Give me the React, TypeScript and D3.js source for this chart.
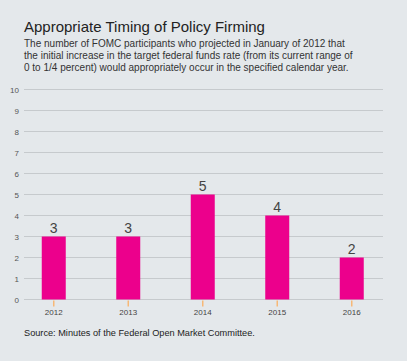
import { useEffect, useRef } from "react"
import * as d3 from "d3"

const years = ["2012", "2013", "2014", "2015", "2016"]
const participants = [3, 3, 5, 4, 2]
const yTicks = [0, 1, 2, 3, 4, 5, 6, 7, 8, 9, 10]

const title = "Appropriate Timing of Policy Firming"
const subtitle = [
  "The number of FOMC participants who projected in January of 2012 that",
  "the initial increase in the target federal funds rate (from its current range of",
  "0 to 1/4 percent) would appropriately occur in the specified calendar year.",
]
const source = "Source: Minutes of the Federal Open Market Committee."

export default function App() {
  const svgRef = useRef<SVGSVGElement>(null)

  useEffect(() => {
    document.body.style.margin = "0"
    document.body.style.background = "#e4e8eb"
    if (!svgRef.current) return

    const svg = d3.select(svgRef.current)
    svg.selectAll("*").remove()

    const width = 407
    const height = 361
    const font = "Liberation Sans, Arial, sans-serif"

    svg.append("rect").attr("width", width).attr("height", height).attr("fill", "#e4e8eb")

    // Title and subtitle
    svg
      .append("text")
      .attr("x", 24)
      .attr("y", 31.5)
      .text(title)
      .style("font-family", font)
      .style("font-size", "15px")
      .attr("fill", "#222")

    subtitle.forEach((line, i) => {
      svg
        .append("text")
        .attr("x", 24)
        .attr("y", 47 + i * 12)
        .text(line)
        .style("font-family", font)
        .style("font-size", "10px")
        .attr("fill", "#333")
    })

    // Scales
    const x = d3.scalePoint<string>().domain(years).range([16.5, 389]).padding(0.5)
    const y = d3.scaleLinear().domain([0, 10]).range([299.5, 89.5])
    const barWidth = 24

    // Grid lines + y labels
    const grid = svg.append("g")
    yTicks.forEach((t) => {
      grid
        .append("line")
        .attr("x1", 24)
        .attr("x2", 383)
        .attr("y1", y(t))
        .attr("y2", y(t))
        .attr("stroke", "#c6cacd")
        .attr("stroke-width", 1)
      grid
        .append("text")
        .attr("x", 19)
        .attr("y", y(t) + 3)
        .attr("text-anchor", "end")
        .text(t)
        .style("font-family", font)
        .style("font-size", "8px")
        .attr("fill", "#555")
    })

    // Bars
    const bars = svg.append("g")
    years.forEach((yr, i) => {
      const cx = x(yr) || 0
      const v = participants[i]
      bars
        .append("rect")
        .attr("x", cx - barWidth / 2)
        .attr("y", y(v))
        .attr("width", barWidth)
        .attr("height", y(0) - y(v))
        .attr("fill", "#ec008c")

      bars
        .append("text")
        .attr("x", cx)
        .attr("y", y(v) - 4)
        .attr("text-anchor", "middle")
        .text(v)
        .style("font-family", font)
        .style("font-size", "14px")
        .attr("fill", "#444")

      // tick mark under bar
      bars
        .append("line")
        .attr("x1", cx)
        .attr("x2", cx)
        .attr("y1", y(0) + 1)
        .attr("y2", y(0) + 7)
        .attr("stroke", "#f7b877")
        .attr("stroke-width", 1.5)

      bars
        .append("text")
        .attr("x", cx)
        .attr("y", 315)
        .attr("text-anchor", "middle")
        .text(yr)
        .style("font-family", font)
        .style("font-size", "8px")
        .attr("fill", "#444")
    })

    // Source
    svg
      .append("text")
      .attr("x", 24)
      .attr("y", 336)
      .text(source)
      .style("font-family", font)
      .style("font-size", "9.2px")
      .attr("fill", "#222")
  }, [])

  return <svg ref={svgRef} width={407} height={361} style={{ display: "block" }}></svg>
}
